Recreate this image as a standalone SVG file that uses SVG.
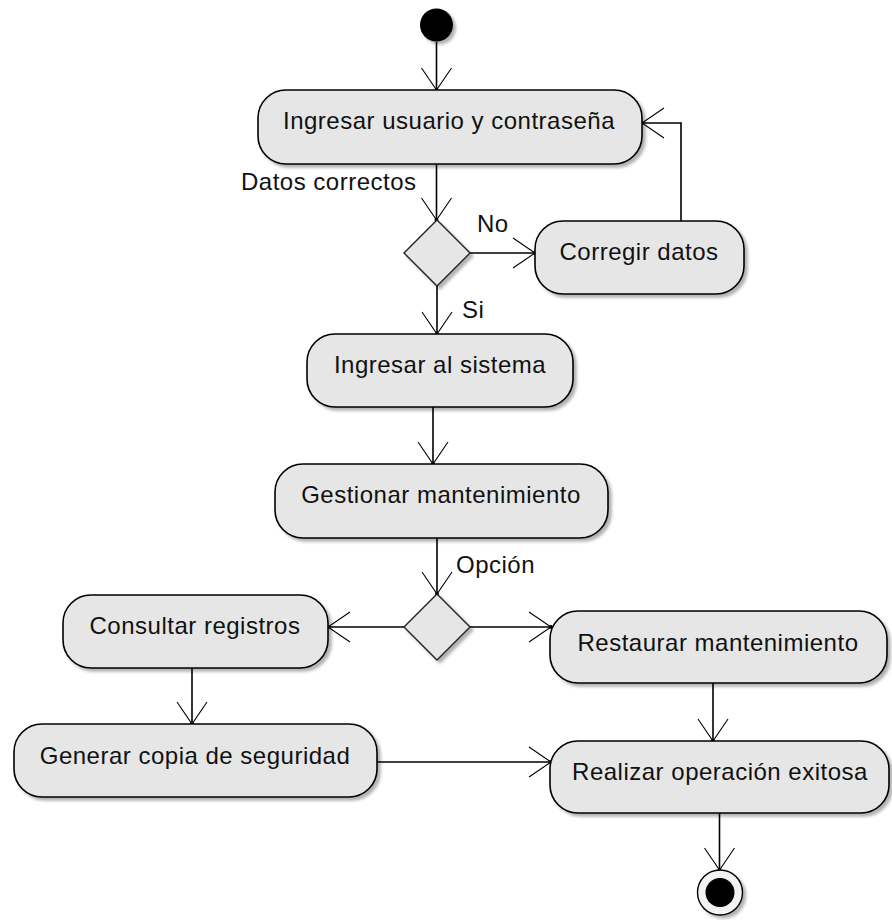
<svg xmlns="http://www.w3.org/2000/svg" width="892" height="920" viewBox="0 0 892 920">
<style>
.act{fill:#e6e6e6;stroke:#000;stroke-width:1.6;filter:url(#sh)}
.dec{fill:#e6e6e6;stroke:#222;stroke-width:1.4;filter:url(#sh)}
.t{font-family:"Liberation Sans",Arial,sans-serif;font-size:24px;letter-spacing:0.5px;fill:#111;text-anchor:middle}
.lbl{font-family:"Liberation Sans",Arial,sans-serif;font-size:24px;letter-spacing:0.5px;fill:#111}
.e{fill:none;stroke:#000;stroke-width:1.6;marker-end:url(#arr)}
</style>
<defs>
<filter id="sh" x="-10%" y="-20%" width="130%" height="150%">
<feDropShadow dx="3" dy="3" stdDeviation="1.5" flood-color="#000" flood-opacity="0.3"/>
</filter>
<marker id="arr" markerUnits="userSpaceOnUse" markerWidth="40" markerHeight="40" refX="30" refY="20" orient="auto" viewBox="0 0 40 40">
<path d="M8 5 L30 20 L8 35" fill="none" stroke="#000" stroke-width="1.1"/>
<circle cx="30" cy="20" r="2" fill="#000"/>
</marker>
</defs>
<rect width="892" height="920" fill="#fff"/>
<g id="connectors">
<path class="e" d="M436.5 42 V90"/>
<path class="e" d="M436.5 164 V220"/>
<path class="e" d="M470 253 H535"/>
<path class="e" d="M681 221 V123 H642"/>
<path class="e" d="M437 286 V334"/>
<path class="e" d="M433 407 V464"/>
<path class="e" d="M437 538 V594"/>
<path class="e" d="M405 627 H328"/>
<path class="e" d="M470 627 H551"/>
<path class="e" d="M192 668 V724"/>
<path class="e" d="M377 762 H551"/>
<path class="e" d="M713 683 V741"/>
<path class="e" d="M719.5 813 V870"/>
<text class="lbl" x="241" y="190">Datos correctos</text>
<text class="lbl" x="477" y="232">No</text>
<text class="lbl" x="462" y="318">Si</text>
<text class="lbl" x="456" y="573">Opción</text>
</g>
<g id="start"><circle cx="436.5" cy="25" r="16.5" fill="#000" filter="url(#sh)"/></g>
<g id="n1"><rect class="act" x="258" y="90" width="384" height="74" rx="28"/><text class="t" x="449" y="129">Ingresar usuario y contraseña</text></g>
<g id="d1"><path class="dec" d="M437 220 L470 253 L437 286 L404 253 Z"/></g>
<g id="n2"><rect class="act" x="535" y="221" width="209" height="73" rx="28"/><text class="t" x="639" y="260">Corregir datos</text></g>
<g id="n3"><rect class="act" x="307" y="334" width="266" height="73" rx="28"/><text class="t" x="440" y="373">Ingresar al sistema</text></g>
<g id="n4"><rect class="act" x="275" y="464" width="333" height="74" rx="28"/><text class="t" x="441" y="503">Gestionar mantenimiento</text></g>
<g id="d2"><path class="dec" d="M437 594 L470 627 L437 660 L404 627 Z"/></g>
<g id="n5"><rect class="act" x="63" y="595" width="265" height="73" rx="28"/><text class="t" x="195" y="634">Consultar registros</text></g>
<g id="n6"><rect class="act" x="550" y="611" width="337" height="72" rx="28"/><text class="t" x="718" y="651">Restaurar mantenimiento</text></g>
<g id="n7"><rect class="act" x="14" y="724" width="363" height="73" rx="28"/><text class="t" x="195" y="764">Generar copia de seguridad</text></g>
<g id="n8"><rect class="act" x="550" y="741" width="339" height="72" rx="28"/><text class="t" x="720" y="780">Realizar operación exitosa</text></g>
<g id="end"><circle cx="720" cy="892.5" r="22.5" fill="#f2f2f2" stroke="#000" stroke-width="1.4" filter="url(#sh)"/><circle cx="720" cy="892.5" r="14.5" fill="#000"/></g>
</svg>
